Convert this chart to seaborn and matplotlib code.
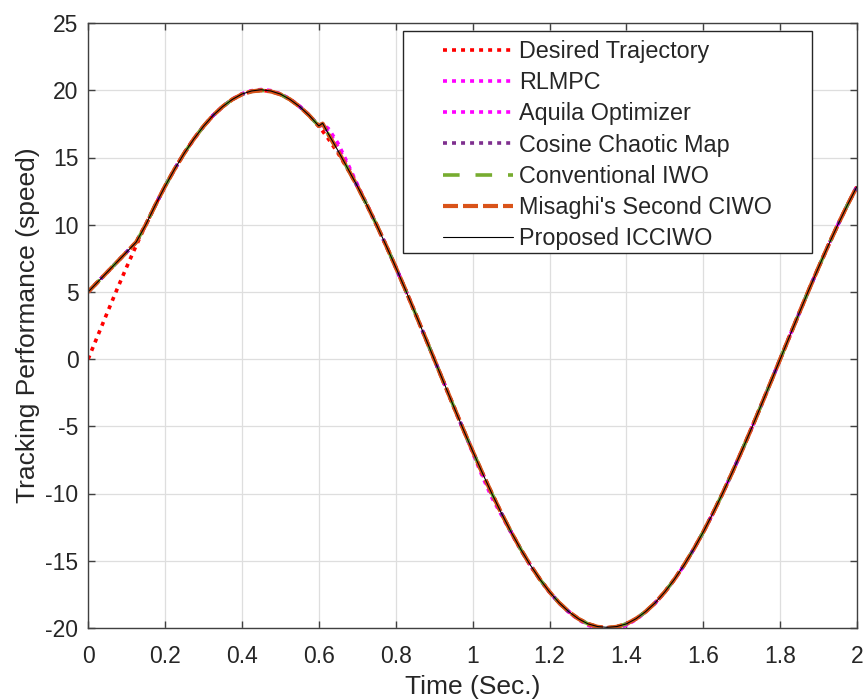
import matplotlib
matplotlib.use("Agg")
import matplotlib.pyplot as plt
from matplotlib.patches import Rectangle
import seaborn as sns

# Sample times (s)
time = [0.000, 0.025, 0.050, 0.075, 0.100, 0.125, 0.150, 0.175, 0.200, 0.225,
        0.250, 0.275, 0.300, 0.325, 0.350, 0.375, 0.400, 0.425, 0.450, 0.475,
        0.500, 0.525, 0.550, 0.575, 0.600, 0.610, 0.625, 0.650, 0.675, 0.700,
        0.725, 0.750, 0.775, 0.800, 0.825, 0.850, 0.875, 0.900, 0.925, 0.950,
        0.975, 1.000, 1.025, 1.050, 1.075, 1.100, 1.125, 1.150, 1.175, 1.200,
        1.225, 1.250, 1.275, 1.300, 1.325, 1.350, 1.375, 1.400, 1.425, 1.450,
        1.475, 1.500, 1.525, 1.550, 1.575, 1.600, 1.625, 1.650, 1.675, 1.700,
        1.725, 1.750, 1.775, 1.800, 1.825, 1.850, 1.875, 1.900, 1.925, 1.950,
        1.975, 2.000]

# Reference speed
desired = [0.00, 1.74, 3.47, 5.18, 6.84, 8.45, 10.00, 11.47, 12.86, 14.14,
           15.32, 16.38, 17.32, 18.13, 18.79, 19.32, 19.70, 19.92, 20.00, 19.92,
           19.70, 19.32, 18.79, 18.13, 17.32, 16.96, 16.38, 15.32, 14.14, 12.86,
           11.47, 10.00, 8.45, 6.84, 5.18, 3.47, 1.74, 0.00, -1.74, -3.47,
           -5.18, -6.84, -8.45, -10.00, -11.47, -12.86, -14.14, -15.32, -16.38, -17.32,
           -18.13, -18.79, -19.32, -19.70, -19.92, -20.00, -19.92, -19.70, -19.32, -18.79,
           -18.13, -17.32, -16.38, -15.32, -14.14, -12.86, -11.47, -10.00, -8.45, -6.84,
           -5.18, -3.47, -1.74, 0.00, 1.74, 3.47, 5.18, 6.84, 8.45, 10.00,
           11.47, 12.86]

# Controller responses
rlmpc = [5.00, 5.74, 6.48, 7.22, 7.96, 8.70, 10.00, 11.47, 12.86, 14.14,
         15.32, 16.38, 17.32, 18.13, 18.80, 19.34, 19.74, 19.97, 20.06, 19.98,
         19.74, 19.36, 18.82, 18.16, 17.36, 17.45, 17.15, 16.05, 14.55, 13.00,
         11.50, 10.00, 8.45, 6.84, 5.18, 3.47, 1.74, 0.00, -1.74, -3.48,
         -5.20, -6.95, -8.70, -10.30, -11.60, -12.92, -14.18, -15.35, -16.40, -17.34,
         -18.16, -18.83, -19.38, -19.80, -20.05, -20.15, -20.05, -19.80, -19.38, -18.83,
         -18.15, -17.34, -16.40, -15.34, -14.15, -12.87, -11.48, -10.01, -8.46, -6.85,
         -5.19, -3.48, -1.74, 0.00, 1.74, 3.47, 5.18, 6.84, 8.45, 10.00,
         11.47, 12.86]
aquila = [5.00, 5.74, 6.48, 7.22, 7.96, 8.70, 10.00, 11.47, 12.86, 14.14,
          15.32, 16.38, 17.32, 18.13, 18.79, 19.33, 19.72, 19.95, 20.03, 19.95,
          19.72, 19.34, 18.80, 18.14, 17.34, 17.40, 16.95, 15.80, 14.40, 12.95,
          11.48, 10.00, 8.45, 6.84, 5.18, 3.47, 1.74, 0.00, -1.74, -3.47,
          -5.19, -6.88, -8.55, -10.12, -11.52, -12.88, -14.15, -15.33, -16.39, -17.33,
          -18.14, -18.80, -19.34, -19.74, -19.98, -20.06, -19.98, -19.74, -19.34, -18.80,
          -18.14, -17.33, -16.39, -15.33, -14.15, -12.87, -11.47, -10.00, -8.45, -6.84,
          -5.18, -3.47, -1.74, 0.00, 1.74, 3.47, 5.18, 6.84, 8.45, 10.00,
          11.47, 12.86]
cosine_map = [5.00, 5.74, 6.48, 7.22, 7.96, 8.70, 10.00, 11.47, 12.86, 14.14,
              15.32, 16.38, 17.32, 18.13, 18.79, 19.32, 19.70, 19.92, 20.00, 19.92,
              19.70, 19.32, 18.79, 18.13, 17.35, 17.53, 16.74, 15.49, 14.19, 12.88,
              11.47, 10.00, 8.45, 6.84, 5.18, 3.47, 1.74, 0.00, -1.74, -3.47,
              -5.18, -6.84, -8.45, -10.00, -11.47, -12.86, -14.14, -15.32, -16.38, -17.32,
              -18.13, -18.79, -19.32, -19.70, -19.92, -20.00, -19.92, -19.70, -19.32, -18.79,
              -18.13, -17.32, -16.38, -15.32, -14.14, -12.86, -11.47, -10.00, -8.45, -6.84,
              -5.18, -3.47, -1.74, 0.00, 1.74, 3.47, 5.18, 6.84, 8.45, 10.00,
              11.47, 12.86]
conv_iwo = [5.00, 5.74, 6.48, 7.22, 7.96, 8.70, 10.00, 11.47, 12.86, 14.14,
            15.32, 16.38, 17.32, 18.13, 18.79, 19.32, 19.70, 19.92, 20.00, 19.92,
            19.70, 19.32, 18.79, 18.13, 17.34, 17.50, 16.70, 15.46, 14.18, 12.87,
            11.47, 10.00, 8.45, 6.84, 5.18, 3.47, 1.74, 0.00, -1.74, -3.47,
            -5.18, -6.84, -8.45, -10.00, -11.47, -12.86, -14.14, -15.32, -16.38, -17.32,
            -18.13, -18.79, -19.32, -19.70, -19.92, -20.00, -19.92, -19.70, -19.32, -18.79,
            -18.13, -17.32, -16.38, -15.32, -14.14, -12.86, -11.47, -10.00, -8.45, -6.84,
            -5.18, -3.47, -1.74, 0.00, 1.74, 3.47, 5.18, 6.84, 8.45, 10.00,
            11.47, 12.86]
misaghi = [5.00, 5.74, 6.48, 7.22, 7.96, 8.70, 10.00, 11.47, 12.86, 14.14,
           15.32, 16.38, 17.32, 18.13, 18.79, 19.32, 19.70, 19.92, 20.00, 19.92,
           19.70, 19.32, 18.79, 18.13, 17.34, 17.52, 16.72, 15.48, 14.18, 12.87,
           11.47, 10.00, 8.45, 6.84, 5.18, 3.47, 1.74, 0.00, -1.74, -3.47,
           -5.18, -6.84, -8.45, -10.00, -11.47, -12.86, -14.14, -15.32, -16.38, -17.32,
           -18.13, -18.79, -19.32, -19.70, -19.92, -20.00, -19.92, -19.70, -19.32, -18.79,
           -18.13, -17.32, -16.38, -15.32, -14.14, -12.86, -11.47, -10.00, -8.45, -6.84,
           -5.18, -3.47, -1.74, 0.00, 1.74, 3.47, 5.18, 6.84, 8.45, 10.00,
           11.47, 12.86]
icciwo = [5.00, 5.74, 6.48, 7.22, 7.96, 8.70, 10.00, 11.47, 12.86, 14.14,
          15.32, 16.38, 17.32, 18.13, 18.79, 19.32, 19.72, 19.95, 20.04, 19.95,
          19.72, 19.32, 18.79, 18.13, 17.35, 17.55, 16.75, 15.50, 14.20, 12.88,
          11.47, 10.00, 8.45, 6.84, 5.18, 3.47, 1.74, 0.00, -1.74, -3.47,
          -5.18, -6.84, -8.45, -10.00, -11.47, -12.86, -14.14, -15.32, -16.38, -17.32,
          -18.13, -18.79, -19.32, -19.70, -19.90, -19.96, -19.90, -19.70, -19.32, -18.79,
          -18.13, -17.32, -16.38, -15.32, -14.14, -12.86, -11.47, -10.00, -8.45, -6.84,
          -5.18, -3.47, -1.74, 0.00, 1.74, 3.47, 5.18, 6.84, 8.45, 10.00,
          11.47, 12.86]

labels = ["Desired Trajectory", "RLMPC", "Aquila Optimizer", "Cosine Chaotic Map",
          "Conventional IWO", "Misaghi's Second CIWO", "Proposed ICCIWO"]
x_ticks = [0, 0.2, 0.4, 0.6, 0.8, 1, 1.2, 1.4, 1.6, 1.8, 2]
x_tick_labels = ["0", "0.2", "0.4", "0.6", "0.8", "1", "1.2", "1.4", "1.6", "1.8", "2"]
y_ticks = [-20, -15, -10, -5, 0, 5, 10, 15, 20, 25]

sns.set_theme(style="whitegrid")
plt.rcParams["font.family"] = ["Liberation Sans", "DejaVu Sans"]
plt.rcParams["axes.unicode_minus"] = False

fig = plt.figure(figsize=(8.64, 7.0), dpi=100)
ax = fig.add_axes([0.102, 0.103, 0.890, 0.864])

styles = [
    dict(color="#FF0000", lw=2.6, ls=(0, (1.1, 1.4))),
    dict(color="#FF00FF", lw=2.6, ls=(0, (1.1, 1.4))),
    dict(color="#FF00FF", lw=2.6, ls=(0, (1.1, 1.4))),
    dict(color="#7E2F8E", lw=2.6, ls=(0, (1.1, 1.4))),
    dict(color="#77AC30", lw=2.6, ls=(0, (4.6, 4.4))),
    dict(color="#D95319", lw=3.0, ls=(0, (3.6, 1.2))),
    dict(color="#000000", lw=0.8, ls="-"),
]
series = [desired, rlmpc, aquila, cosine_map, conv_iwo, misaghi, icciwo]

for vals, lab, st in zip(series, labels, styles):
    sns.lineplot(x=time, y=vals, ax=ax, label=lab, color=st["color"],
                 linewidth=st["lw"], linestyle=st["ls"], sort=False)

ax.set_xlim(0, 2)
ax.set_ylim(-20, 25)
ax.set_xticks(x_ticks)
ax.set_xticklabels(x_tick_labels)
ax.set_yticks(y_ticks)
ax.set_yticklabels([str(v) for v in y_ticks])

tick_fs = 16.5
label_fs = 19
legend_fs = 16.8
ax.set_xlabel("Time (Sec.)", fontsize=label_fs, color="#262626", labelpad=5)
ax.set_ylabel("Tracking Performance (speed)", fontsize=label_fs, color="#262626", labelpad=4)

ax.set_facecolor("white")
ax.grid(True, color="#dedede", linewidth=0.9)
for sp in ax.spines.values():
    sp.set_color("#404040")
    sp.set_linewidth(1.0)
ax.tick_params(direction="in", length=5, width=1.0, colors="#404040",
               labelcolor="#262626", labelsize=tick_fs, top=True, right=True,
               bottom=True, left=True)
ax.tick_params(axis="x", pad=12)
ax.tick_params(axis="y", pad=7)

# Legend: white box with a thin dark border, entries inset from the left edge
handles, labs = ax.get_legend_handles_labels()
if ax.get_legend() is not None:
    ax.get_legend().remove()
box = Rectangle((0.4096, 0.6198), 0.9415 - 0.4096, 0.9868 - 0.6198,
                transform=ax.transAxes, facecolor="white", edgecolor="#262626",
                linewidth=1.0, zorder=4)
ax.add_patch(box)
leg = ax.legend(handles, labs, loc="upper left", bbox_to_anchor=(0.4616, 0.972),
                frameon=False, fontsize=legend_fs, handlelength=3.0, handletextpad=0.26,
                labelspacing=0.35, borderpad=0.0, borderaxespad=0.0)
leg.set_zorder(5)

fig.savefig("out.png", dpi=100)
